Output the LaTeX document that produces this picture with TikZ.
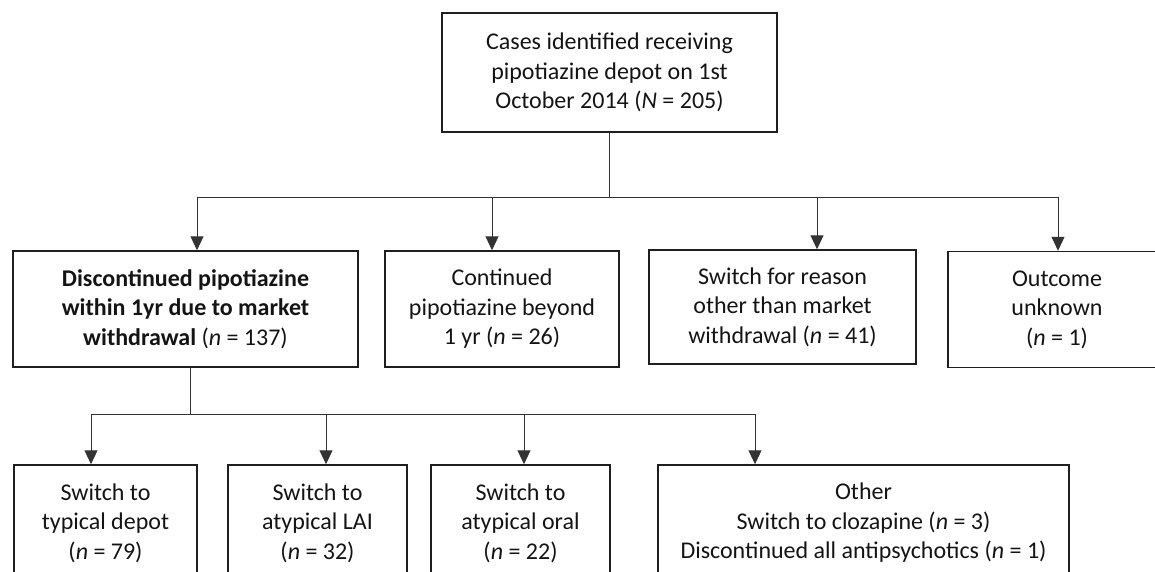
\documentclass[tikz,border=0pt]{standalone}
\usepackage{fontspec}
\setmainfont{Carlito}
\usetikzlibrary{arrows.meta}
\tikzset{>={Triangle[width=13pt,length=14pt]}}

\begin{document}
\begin{tikzpicture}[x=1pt, y=-1pt,
    box/.style={draw=black!88, line width=1.5pt, minimum height=116pt, inner sep=0pt, align=center,
        text=black!92, font=\fontsize{24}{29.5}\selectfont},
    link/.style={draw=black!80, line width=1pt}]
    \useasboundingbox (0,0) rectangle (1155,571);
    % top
    \node[box, minimum width=335pt, minimum height=119pt] (cases) at (609.5,72.5)
        {Cases identified receiving\\pipotiazine depot on 1st\\October 2014 (\textit{N} = 205)};
    % outcomes after one year
    \node[box, minimum width=345pt] (disc) at (185.5,309)
        {\textbf{Discontinued pipotiazine}\\\textbf{within 1yr due to market}\\\textbf{withdrawal} (\textit{n} = 137)};
    \node[box, minimum width=234pt] (cont) at (502,309)
        {Continued\\pipotiazine beyond\\1 yr (\textit{n} = 26)};
    \node[box, minimum width=267pt, minimum height=114pt] (reason) at (782.5,307)
        {Switch for reason\\other than market\\withdrawal (\textit{n} = 41)};
    \node[box, minimum width=218pt] (unknown) at (1057,309.5)
        {Outcome\\unknown\\(\textit{n} = 1)};
    % what they switched to
    \node[box, minimum width=183pt] (typical) at (105.5,523)
        {Switch to\\typical depot\\(\textit{n} = 79)};
    \node[box, minimum width=179pt] (lai) at (317.5,523)
        {Switch to\\atypical LAI\\(\textit{n} = 32)};
    \node[box, minimum width=179pt] (oral) at (520.5,523)
        {Switch to\\atypical oral\\(\textit{n} = 22)};
    \node[box, minimum width=411pt] (other) at (863.5,523)
        {Other\\Switch to clozapine (\textit{n} = 3)\\Discontinued all antipsychotics (\textit{n} = 1)};

    \coordinate (t1) at (197,197); \coordinate (t2) at (492,197);
    \coordinate (t3) at (817,197); \coordinate (t4) at (1058,197);
    \draw[link] (cases.south) -- (cases.south |- t1);
    \draw[link] (t1) -- (t4);
    \foreach \t/\b in {t1/disc, t2/cont, t3/reason, t4/unknown}
        \draw[link, ->] (\t) -- (\t |- \b.north);

    \coordinate (s0) at (190,414);
    \coordinate (s1) at (91,414); \coordinate (s2) at (326,414);
    \coordinate (s3) at (524,414); \coordinate (s4) at (755,414);
    \draw[link] (s0 |- disc.south) -- (s0);
    \draw[link] (s1) -- (s4);
    \foreach \s/\b in {s1/typical, s2/lai, s3/oral, s4/other}
        \draw[link, ->] (\s) -- (\s |- \b.north);
\end{tikzpicture}
\end{document}
